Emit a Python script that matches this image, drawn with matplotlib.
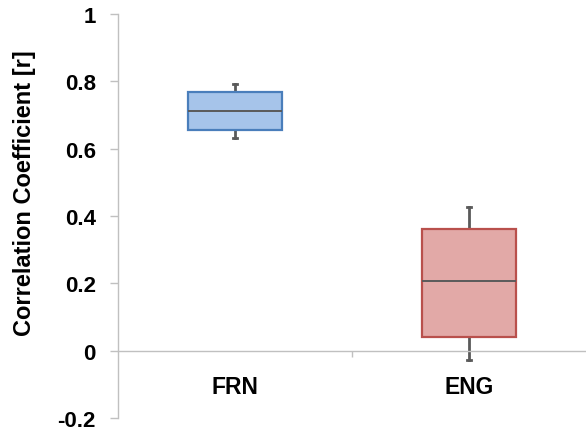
import matplotlib
matplotlib.use("Agg")
import matplotlib.pyplot as plt

plt.rcParams['font.family'] = ['Liberation Sans', 'DejaVu Sans']

categories = ["FRN", "ENG"]
whisker_low = [0.632, -0.027]
quartile_1 = [0.654, 0.042]
medians = [0.711, 0.208]
quartile_3 = [0.769, 0.362]
whisker_high = [0.792, 0.427]

y_ticks = [-0.2, 0, 0.2, 0.4, 0.6, 0.8, 1]
y_tick_labels = ["-0.2", "0", "0.2", "0.4", "0.6", "0.8", "1"]

face_colors = ["#a6c4ea", "#e2a9a7"]
edge_colors = ["#4a7ebb", "#b9504c"]

fig = plt.figure(figsize=(5.86, 4.35), dpi=100)
ax = fig.add_axes([118 / 586, 1 - 419 / 435, 1 - 118 / 586, (419 - 15) / 435])

stats = []
for i, name in enumerate(categories):
    stats.append(dict(label=name, whislo=whisker_low[i], q1=quartile_1[i],
                      med=medians[i], q3=quartile_3[i], whishi=whisker_high[i],
                      fliers=[]))

positions = list(range(1, len(categories) + 1))
bp = ax.bxp(stats, positions=positions, widths=0.405, patch_artist=True,
            showfliers=False, capwidths=0.014,
            medianprops=dict(color="#5a5a5a", linewidth=1.4),
            whiskerprops=dict(color="#5a5a5a", linewidth=2.0),
            capprops=dict(color="#5a5a5a", linewidth=2.0))
for box, fc, ec in zip(bp["boxes"], face_colors, edge_colors):
    box.set_facecolor(fc)
    box.set_edgecolor(ec)
    box.set_linewidth(1.6)
    box.set_zorder(3)
for m in bp["medians"]:
    m.set_zorder(4)

ax.set_xlim(0.5, 2.5)
ax.set_ylim(-0.2, 1.0)

axis_gray = "#c0c0c0"
for side in ["top", "right"]:
    ax.spines[side].set_visible(False)
ax.spines["left"].set_color(axis_gray)
ax.spines["left"].set_linewidth(1.0)
ax.spines["bottom"].set_position(("data", 0))
ax.spines["bottom"].set_color(axis_gray)
ax.spines["bottom"].set_linewidth(1.0)

ax.set_yticks(y_ticks)
ax.set_yticklabels(y_tick_labels, fontsize=16, fontweight="bold")
ax.tick_params(axis="y", direction="out", length=6, width=1.0, color=axis_gray, pad=10)

ax.set_xticks([1.5])
ax.set_xticklabels([""])
ax.tick_params(axis="x", direction="out", length=4.5, width=1.0, color=axis_gray)

for pos, name in zip(positions, categories):
    ax.text(pos, -0.107, name, ha="center", va="center", fontsize=16.5, fontweight="bold")

ax.set_ylabel("Correlation Coefficient [r]", fontsize=17, fontweight="bold")
ax.yaxis.set_label_coords(-0.175, 0.559)

fig.savefig("out.png", dpi=100)
